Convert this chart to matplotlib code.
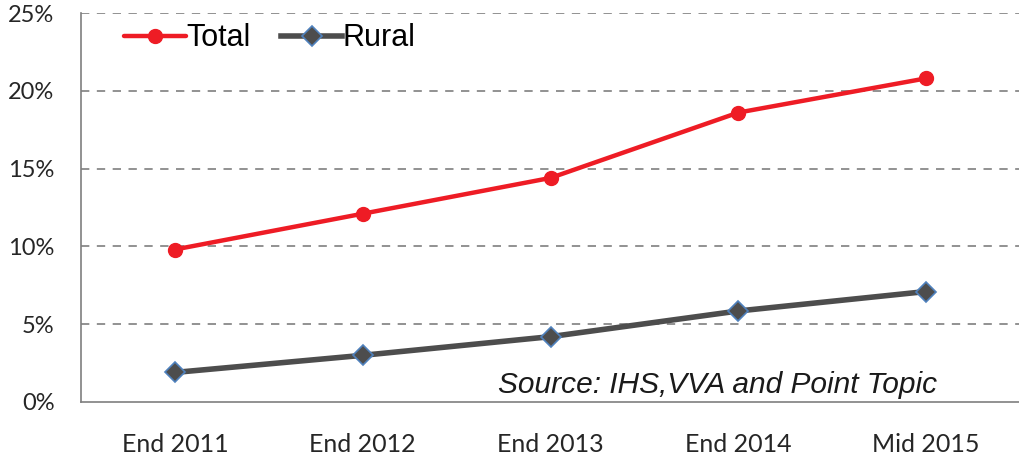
import matplotlib
matplotlib.use("Agg")
import matplotlib.pyplot as plt
from matplotlib.ticker import FuncFormatter

categories = ["End 2011", "End 2012", "End 2013", "End 2014", "Mid 2015"]
total = [9.8, 12.1, 14.4, 18.6, 20.8]
rural = [1.9, 3.0, 4.2, 5.85, 7.1]
yticks = [0, 5, 10, 15, 20, 25]

fig = plt.figure(figsize=(10.2, 4.57), dpi=100)
ax = fig.add_axes([81/1020, 1-402/457, 1-81/1020, (402-13)/457])

x = list(range(len(categories)))
ax.plot(x, total, color="#ee1c25", lw=3.2, marker="o", markersize=10,
        markerfacecolor="#ee1c25", markeredgecolor="#ee1c25", label="Total",
        solid_capstyle="round", zorder=3)
ax.plot(x, rural, color="#4d4d4d", lw=4, marker="D", markersize=10,
        markerfacecolor="#4d4d4d", markeredgecolor="#4f81bd", markeredgewidth=1.2,
        label="Rural", zorder=3)

ax.set_xlim(-0.5, 4.5)
ax.set_ylim(0, 25)
ax.set_yticks(yticks)
ax.yaxis.set_major_formatter(FuncFormatter(lambda v, p: f"{int(v)}%"))
ax.set_xticks(x)
ax.set_xticklabels(categories, fontfamily="Lato", fontsize=18)
for lbl in ax.get_yticklabels():
    lbl.set_fontfamily("Lato")
    lbl.set_fontsize(17)
ax.tick_params(axis="both", length=0, colors="#262626")
ax.tick_params(axis="x", pad=22)
ax.tick_params(axis="y", pad=19)

for yv in yticks[1:]:
    ax.axhline(yv, color="#7f7f7f", lw=1.2, ls=(0, (5, 4.5)), zorder=1)

for s in ["top", "right"]:
    ax.spines[s].set_visible(False)
ax.spines["left"].set_color("#7f7f7f")
ax.spines["bottom"].set_color("#7f7f7f")
ax.spines["left"].set_linewidth(1.2)
ax.spines["bottom"].set_linewidth(1.2)

leg = ax.legend(loc="center left", bbox_to_anchor=(0.03, 0.935), ncol=2, frameon=False,
                prop={"family": "Liberation Sans", "size": 22}, handlelength=2.0,
                handletextpad=0.02, columnspacing=1.0, borderpad=0)

ax.text(0.912, 0.044, "Source: IHS,VVA and Point Topic", transform=ax.transAxes,
        ha="right", va="center", fontsize=21.5, style="italic",
        fontfamily="Liberation Sans", color="#1a1a1a")

fig.savefig("out.png", dpi=100)
